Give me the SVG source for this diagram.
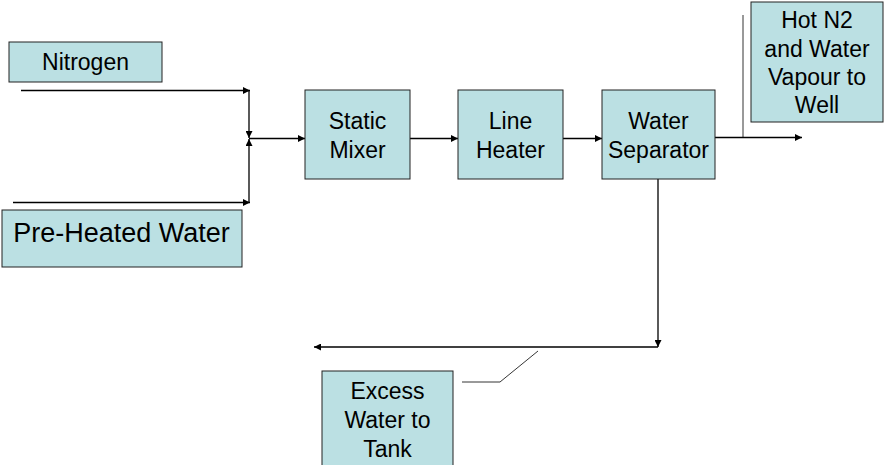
<svg xmlns="http://www.w3.org/2000/svg" width="884" height="465" viewBox="0 0 884 465">
<defs>
<style>
.box{fill:#BBE0E3;stroke:#222;stroke-width:1}
.t{font-family:"Liberation Sans",Arial,sans-serif;font-size:23px;fill:#000;text-anchor:middle}
.ln{fill:none;stroke:#000;stroke-width:1.3}
.thin{fill:none;stroke:#000;stroke-width:0.8}
</style>
<marker id="ah" viewBox="0 0 10 10" refX="10" refY="5" markerWidth="8" markerHeight="7" markerUnits="userSpaceOnUse" orient="auto">
<path d="M0,0 L10,5 L0,10 z" fill="#000"/>
</marker>
</defs>
<rect width="884" height="465" fill="#fff"/>
<g id="connectors">
<path class="ln" d="M21,90.5 H250" marker-end="url(#ah)"/>
<path class="ln" d="M13,202.5 H250" marker-end="url(#ah)"/>
<path class="ln" d="M249,90.5 V138" marker-end="url(#ah)"/>
<path class="ln" d="M249,202.5 V139" marker-end="url(#ah)"/>
<path class="ln" d="M249,138.5 H305" marker-end="url(#ah)"/>
<path class="ln" d="M410,138.5 H458" marker-end="url(#ah)"/>
<path class="ln" d="M563,138.5 H602" marker-end="url(#ah)"/>
<path class="ln" d="M715,137.5 H802" marker-end="url(#ah)"/>
<path class="thin" d="M743,15 V137"/>
<path class="ln" d="M658,179 V347" marker-end="url(#ah)"/>
<path class="ln" d="M658,347 H314" marker-end="url(#ah)"/>
<path class="thin" d="M538,351 L500,382 H462"/>
</g>
<g id="nitrogen">
<rect class="box" x="9" y="42" width="153" height="40"/>
<text class="t" x="85.5" y="70">Nitrogen</text>
</g>
<g id="preheated-water">
<rect class="box" x="2" y="210" width="240" height="57"/>
<text class="t" x="121.5" y="242" style="font-size:27px">Pre-Heated Water</text>
</g>
<g id="static-mixer">
<rect class="box" x="305" y="90" width="105" height="89"/>
<text class="t" x="357.5" y="129">Static</text>
<text class="t" x="357.5" y="158">Mixer</text>
</g>
<g id="line-heater">
<rect class="box" x="458" y="90" width="105" height="89"/>
<text class="t" x="510.5" y="129">Line</text>
<text class="t" x="510.5" y="158">Heater</text>
</g>
<g id="water-separator">
<rect class="box" x="602" y="90" width="113" height="89"/>
<text class="t" x="658.5" y="129">Water</text>
<text class="t" x="658.5" y="158">Separator</text>
</g>
<g id="hot-n2">
<rect class="box" x="751" y="2" width="132" height="120"/>
<text class="t" x="817" y="28">Hot N2</text>
<text class="t" x="817" y="57">and Water</text>
<text class="t" x="817" y="85">Vapour to</text>
<text class="t" x="817" y="113">Well</text>
</g>
<g id="excess-water">
<rect class="box" x="322" y="371" width="131" height="100"/>
<text class="t" x="387.5" y="399">Excess</text>
<text class="t" x="387.5" y="428">Water to</text>
<text class="t" x="387.5" y="457">Tank</text>
</g>
</svg>
